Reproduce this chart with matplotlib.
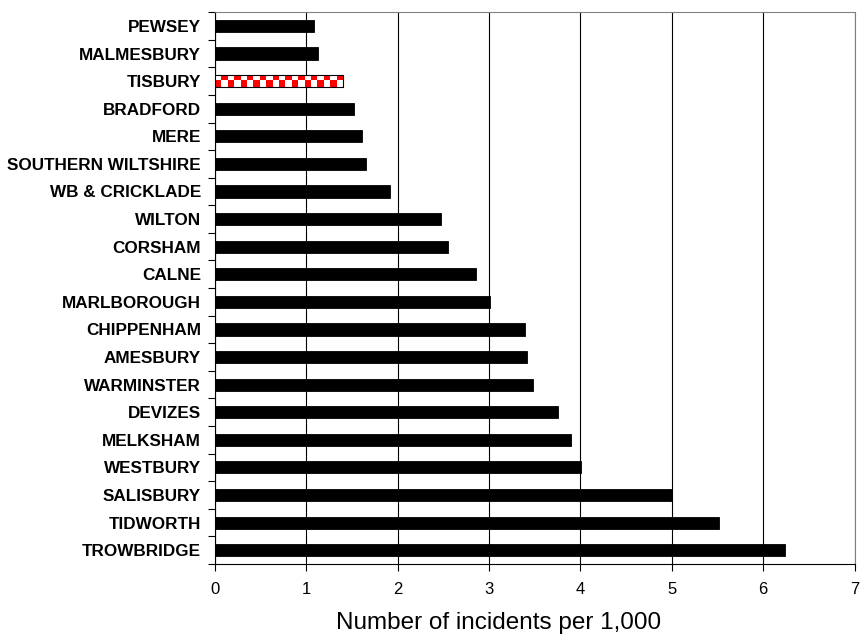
import numpy as np
import matplotlib
matplotlib.use("Agg")
import matplotlib.pyplot as plt
from matplotlib.colors import ListedColormap

plt.rcParams['font.family'] = ['Liberation Sans', 'DejaVu Sans']

areas = ["PEWSEY", "MALMESBURY", "TISBURY", "BRADFORD", "MERE",
         "SOUTHERN WILTSHIRE", "WB & CRICKLADE", "WILTON", "CORSHAM", "CALNE",
         "MARLBOROUGH", "CHIPPENHAM", "AMESBURY", "WARMINSTER", "DEVIZES",
         "MELKSHAM", "WESTBURY", "SALISBURY", "TIDWORTH", "TROWBRIDGE"]
rates = [1.09, 1.13, 1.40, 1.52, 1.61, 1.66, 1.92, 2.47, 2.55, 2.86,
         3.01, 3.39, 3.42, 3.48, 3.75, 3.90, 4.01, 5.00, 5.52, 6.24]
highlight = "TISBURY"
xticks = [0, 1, 2, 3, 4, 5, 6, 7]

fig = plt.figure(figsize=(8.6, 6.39), dpi=100)
ax = fig.add_axes([0.2497, 0.1174, 0.744, 0.8636])

y = np.arange(len(areas))
h = 0.44
colors = ['black' if a != highlight else 'white' for a in areas]
bars = ax.barh(y, rates, height=h, color=colors, edgecolor='black',
               linewidth=0.6, zorder=3)

# checkerboard fill for the highlighted bar
i = areas.index(highlight)
ncol = int(round(rates[i] * 92 / 6.4))
checker = np.indices((2, ncol)).sum(axis=0) % 2
im = ax.imshow(checker, cmap=ListedColormap(['white', 'red']), aspect='auto',
               interpolation='nearest',
               extent=[0, rates[i], i + h / 2, i - h / 2], zorder=3)
im.set_clip_path(bars[i])
ax.barh([i], [rates[i]], height=h, color='none', edgecolor='black',
        linewidth=0.8, zorder=4)

ax.set_xlim(0, 7)
ax.set_ylim(len(areas) - 0.5, -0.5)
ax.set_aspect('auto')
ax.set_xticks(xticks)
ax.set_xticklabels([str(t) for t in xticks], fontsize=12)
ax.tick_params(axis='x', length=5, width=0.8, pad=8, direction='out')
ax.xaxis.grid(True, color='black', linewidth=0.8, zorder=0)
ax.set_axisbelow(True)

ax.set_yticks(y)
ax.set_yticklabels(areas, fontsize=12.3, fontweight='bold')
ax.set_yticks(np.arange(-0.5, len(areas), 1), minor=True)
ax.tick_params(axis='y', which='major', length=0, pad=10)
ax.tick_params(axis='y', which='minor', length=5, width=0.8, direction='out')

for s in ['top', 'right']:
    ax.spines[s].set_color('#808080')
ax.spines['left'].set_color('black')
ax.spines['bottom'].set_color('black')

ax.set_xlabel("Number of incidents per 1,000", fontsize=17.5)
ax.xaxis.set_label_coords(0.444, -0.087)

fig.savefig("out.png", dpi=100)
